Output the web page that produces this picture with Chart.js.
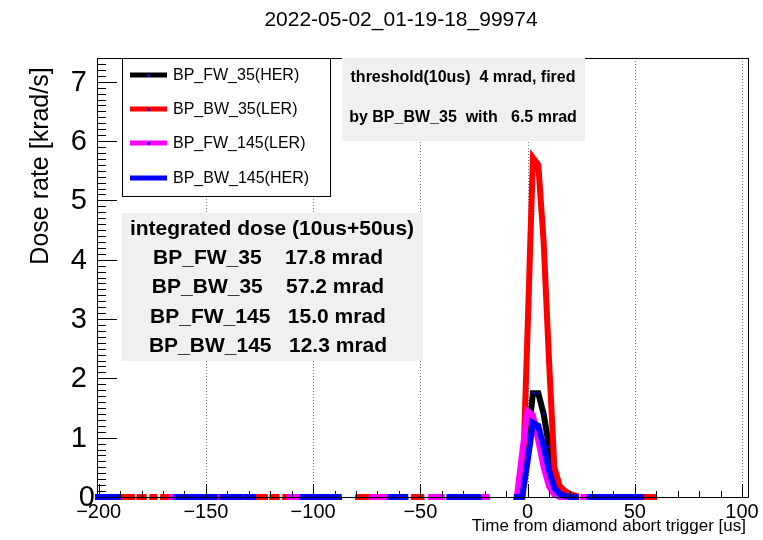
<!DOCTYPE html>
<html>
<head>
<meta charset="utf-8">
<script src="https://cdn.jsdelivr.net/npm/chart.js@4.4.1/dist/chart.umd.min.js"></script>
<style>
  html, body { margin: 0; padding: 0; background: #fff; }
</style>
</head>
<body>
<canvas id="graph" width="763" height="540"></canvas>
<script>
// ---- data (time in us, dose rate in krad/s) ----
const seriesNames = ['BP_FW_35(HER)', 'BP_BW_35(LER)', 'BP_FW_145(LER)', 'BP_BW_145(HER)'];
const seriesColors = ['#000000', '#ff0000', '#ff00ff', '#0000ff'];

// samples around the abort (2.5 us apart)
const peakTime    = [-5, -2.5, 0, 2.5, 5, 7.5, 10, 12.5, 15, 17.5, 20, 22.5];
const fw35Peak    = [0, 0, 0.9, 1.75, 1.75, 1.4, 0.85, 0.3, 0.06, 0, 0, 0];
const bw35Peak    = [0, 0, 2.8, 5.72, 5.6, 4.3, 2.3, 0.5, 0.18, 0.1, 0.05, 0.02];
const fw145Peak   = [0, 0.75, 1.45, 1.38, 0.95, 0.5, 0.18, 0.04, 0, 0, 0, 0];
const bw145Peak   = [0, 0, 0.6, 1.25, 1.2, 0.85, 0.45, 0.15, 0.05, 0.02, 0, 0];

// stretches of the baseline where each trace sits on zero (elsewhere it dips just below the axis)
const fw35Zero  = [];
const bw35Zero  = [[-189, -184.5], [-181, -179], [-175, -174], [-170, -166], [-128, -122.5], [-119, -117],
                   [-113, -111], [-79, -72.5], [-53, -49.5], [-23, -20], [52.7, 59]];
const fw145Zero = [[-166, -164], [-146, -142.5], [-139, -137], [-134, -131], [-111, -106], [-72.5, -64],
                   [-45, -40], [-23, -19], [26, 29]];
const bw145Zero = [[-200.5, -191], [-164, -146], [-142.5, -139], [-136.5, -134], [-131, -128], [-105, -88],
                   [-64, -57], [-36.5, -23], [29, 52.7]];
const belowAxis = -0.3;

const xTicks = [-200, -150, -100, -50, 0, 50, 100];
const yTicks = [0, 1, 2, 3, 4, 5, 6, 7];

const integratedDose = [
    ['BP_FW_35', '17.8 mrad'],
    ['BP_BW_35', '57.2 mrad'],
    ['BP_FW_145', '15.0 mrad'],
    ['BP_BW_145', '12.3 mrad']
];

function buildSeries(zeroSegs, peakVals) {
    let pts = [{x: -202, y: belowAxis}, {x: 104, y: belowAxis}];
    zeroSegs.forEach(seg => {
        pts.push({x: seg[0] - 0.6, y: belowAxis}, {x: seg[0], y: 0}, {x: seg[1], y: 0}, {x: seg[1] + 0.6, y: belowAxis});
    });
    pts.push({x: peakTime[0] - 0.6, y: belowAxis});
    peakTime.forEach((t, i) => pts.push({x: t, y: peakVals[i]}));
    pts.push({x: peakTime[peakTime.length - 1] + 0.6, y: belowAxis});
    pts.sort((a, b) => a.x - b.x);
    return pts;
}

const FONT = '"Liberation Sans", Arial, Helvetica, sans-serif';

const rootFrame = {
    id: 'rootFrame',
    beforeDatasetsDraw(chart) {
        const ctx = chart.ctx, a = chart.chartArea, xs = chart.scales.x;
        ctx.save();
        ctx.strokeStyle = '#777';
        ctx.lineWidth = 1;
        ctx.setLineDash([1, 2]);
        xTicks.forEach(v => {
            if (v === -200) return;
            const px = Math.round(xs.getPixelForValue(v)) + 0.5;
            ctx.beginPath();
            ctx.moveTo(px, a.top);
            ctx.lineTo(px, a.bottom);
            ctx.stroke();
        });
        ctx.restore();
    },
    afterDatasetsDraw(chart) {
        const ctx = chart.ctx, a = chart.chartArea, xs = chart.scales.x, ys = chart.scales.y;
        ctx.save();
        // frame
        ctx.strokeStyle = '#000';
        ctx.lineWidth = 1;
        ctx.strokeRect(Math.round(a.left) + 0.5, Math.round(a.top) + 0.5, Math.round(a.right - a.left), Math.round(a.bottom - a.top));

        // y ticks (inside)
        for (let k = 0; k <= 74; k++) {
            const v = k / 10;
            const py = Math.round(ys.getPixelForValue(v)) + 0.5;
            const len = (k % 10 === 0) ? 20 : 9;
            ctx.beginPath();
            ctx.moveTo(a.left, py);
            ctx.lineTo(a.left + len, py);
            ctx.stroke();
        }
        // x ticks (inside)
        for (let v = -200; v <= 100; v += 10) {
            const px = Math.round(xs.getPixelForValue(v)) + 0.5;
            const len = (v % 50 === 0) ? 13 : 6;
            ctx.beginPath();
            ctx.moveTo(px, a.bottom);
            ctx.lineTo(px, a.bottom - len);
            ctx.stroke();
        }

        // tick labels
        ctx.fillStyle = '#000';
        ctx.font = '29px ' + FONT;
        ctx.textAlign = 'right';
        ctx.textBaseline = 'middle';
        yTicks.forEach(v => {
            const py = ys.getPixelForValue(v);
            ctx.fillText(String(v), v === 0 ? a.left - 2 : a.left - 10, py + 1);
        });
        ctx.font = '20px ' + FONT;
        ctx.textAlign = 'center';
        ctx.textBaseline = 'top';
        xTicks.forEach(v => {
            const label = v < 0 ? '\u2212' + Math.abs(v) : String(v);
            ctx.fillText(label, xs.getPixelForValue(v), a.bottom + 5);
        });

        // axis titles
        ctx.font = '17px ' + FONT;
        ctx.textAlign = 'right';
        ctx.textBaseline = 'alphabetic';
        ctx.fillText('Time from diamond abort trigger [us]', a.right - 2, 531);
        ctx.save();
        ctx.translate(48, 166);
        ctx.rotate(-Math.PI / 2);
        ctx.textAlign = 'center';
        ctx.font = '25px ' + FONT;
        ctx.fillText('Dose rate [krad/s]', 0, 0);
        ctx.restore();

        // title
        ctx.font = '21px ' + FONT;
        ctx.textAlign = 'center';
        ctx.textBaseline = 'middle';
        ctx.fillText('2022-05-02_01-19-18_99974', 401, 20);

        // legend box
        ctx.fillStyle = '#fff';
        ctx.fillRect(122, 58, 208, 138);
        ctx.strokeStyle = '#000';
        ctx.strokeRect(122.5, 58.5, 208, 138);
        const legY = [75, 109, 143, 178];
        seriesNames.forEach((name, i) => {
            ctx.strokeStyle = seriesColors[i];
            ctx.lineWidth = 5;
            ctx.beginPath();
            ctx.moveTo(130, legY[i]);
            ctx.lineTo(167, legY[i]);
            ctx.stroke();
            if (i < 3) {
                ctx.fillStyle = '#0000ff';
                ctx.fillRect(147, legY[i] - 1, 3, 3);
            }
            ctx.fillStyle = '#000';
            ctx.font = '16px ' + FONT;
            ctx.textAlign = 'left';
            ctx.textBaseline = 'middle';
            ctx.fillText(name, 173, legY[i] + 1);
        });

        // threshold box
        ctx.fillStyle = '#f0f0f0';
        ctx.fillRect(342, 58, 243, 83);
        ctx.fillStyle = '#000';
        ctx.font = 'bold 16px ' + FONT;
        ctx.textAlign = 'center';
        ctx.textBaseline = 'middle';
        ctx.fillText('threshold(10us)  4 mrad, fired', 463, 78);
        ctx.fillText('by BP_BW_35  with   6.5 mrad', 463, 118);

        // integrated dose box
        ctx.fillStyle = '#f0f0f0';
        ctx.fillRect(122, 213, 301, 148);
        ctx.fillStyle = '#000';
        ctx.font = 'bold 21px ' + FONT;
        ctx.fillText('integrated dose (10us+50us)', 272, 229);
        integratedDose.forEach((row, i) => {
            const gap = row[0].length > 8 ? '   ' : '    ';
            ctx.fillText(row[0] + gap + row[1], 268, 258 + i * 29.5);
        });
        ctx.restore();
    }
};

const zeroSets = [fw35Zero, bw35Zero, fw145Zero, bw145Zero];
const peakSets = [fw35Peak, bw35Peak, fw145Peak, bw145Peak];

const ctx = document.getElementById('graph').getContext('2d');
const chart = new Chart(ctx, {
    type: 'line',
    data: {
        datasets: seriesNames.map((name, i) => ({
            label: name,
            data: buildSeries(zeroSets[i], peakSets[i]),
            borderColor: seriesColors[i],
            borderWidth: 6,
            pointRadius: i === 0 ? 1.3 : 0, // blue markers only show on the black trace
            pointBorderWidth: 0,
            pointBackgroundColor: '#0000ff',
            tension: 0,
            fill: false,
            order: 3 - i, // black at the bottom, blue on top
            clip: {left: 2, top: 0, right: 0, bottom: 3}
        }))
    },
    options: {
        responsive: false,
        animation: false,
        devicePixelRatio: 1,
        layout: { padding: {left: 97, right: 15, top: 58, bottom: 43} },
        plugins: {
            legend: { display: false },
            tooltip: { enabled: false }
        },
        scales: {
            x: { type: 'linear', min: -200.8, max: 102.8, display: false },
            y: { min: 0, max: 7.4, display: false }
        }
    },
    plugins: [rootFrame]
});
</script>
</body>
</html>
